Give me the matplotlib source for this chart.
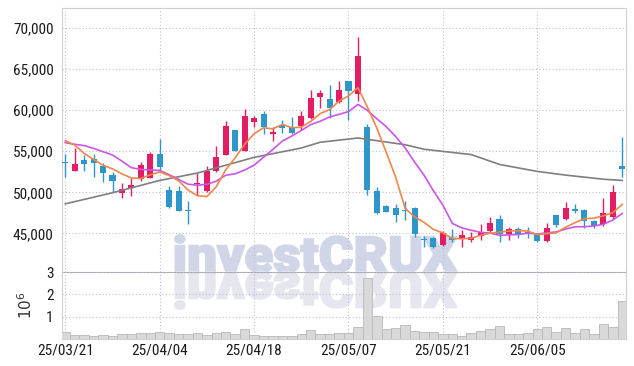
import numpy as np
import pandas as pd
import matplotlib
matplotlib.use("Agg")
import matplotlib.pyplot as plt
from matplotlib import font_manager
from matplotlib.font_manager import FontProperties
from matplotlib.textpath import TextPath
from matplotlib.patches import PathPatch
from matplotlib.transforms import Affine2D

# ---- data ----
tick_labels = ["25/03/21", "25/04/04", "25/04/18", "25/05/07", "25/05/21", "25/06/05"]
tick_index = [0, 10, 20, 30, 40, 50]

open_p = [53700, 52600, 53900, 54050, 53200, 52100, 49950, 50480, 51580, 51800,
          54650, 50250, 50150, 47800, 51000, 50200, 52600, 54550, 57600, 55050,
          58600, 59550, 57050, 58200, 58000, 58100, 59000, 61650, 61350, 61050,
          63550, 62000, 57900, 50150, 48300, 48150, 47800, 48050, 44300, 44400,
          43550, 44500, 44400, 44250, 44650, 45350, 46750, 44900, 45500, 45150,
          44950, 44050, 47200, 46700, 47950, 47800, 46450, 46200, 46950, 53250]
high_p = [54700, 55450, 54550, 54650, 53550, 52500, 51100, 51800, 53750, 54950,
          56450, 50750, 50750, 48900, 52300, 53200, 55700, 58700, 57650, 60200,
          59350, 59950, 58000, 58800, 59150, 59850, 62450, 62450, 63100, 63550,
          63600, 68900, 58300, 50700, 48400, 48550, 48900, 48200, 44700, 44600,
          45300, 45550, 45450, 45200, 46100, 47050, 47300, 45750, 45750, 45750,
          45100, 46300, 47300, 48850, 48600, 47950, 46600, 49350, 50900, 56750]
low_p = [51900, 52600, 52650, 51900, 51300, 50050, 49350, 49600, 51400, 51700,
         52500, 48150, 47700, 46100, 49700, 50000, 52500, 54500, 55000, 55000,
         57900, 57100, 56250, 57200, 57100, 57600, 58900, 60250, 59000, 60900,
         58850, 61150, 49650, 47400, 47550, 46400, 46600, 44550, 43400, 43250,
         43450, 43900, 43300, 43900, 44150, 45150, 44000, 44150, 44500, 44400,
         43950, 43950, 45800, 46600, 47500, 45700, 45650, 45900, 46700, 51850]
close_p = [53600, 53450, 53450, 53600, 52400, 51400, 50400, 50950, 53300, 54650,
           53100, 48250, 47750, 47700, 51150, 52600, 54250, 58050, 55050, 59300,
           59000, 57900, 57400, 57800, 57250, 59300, 61450, 62150, 60250, 62450,
           62400, 66600, 50250, 47500, 47650, 47200, 47700, 44950, 44250, 43350,
           45050, 44250, 44850, 44550, 45150, 46300, 44950, 45500, 44750, 44950,
           44050, 45600, 46000, 48150, 47750, 46450, 45900, 47450, 50000, 52900]
volume_m = [0.33, 0.18, 0.18, 0.12, 0.17, 0.12, 0.21, 0.21, 0.26, 0.26,
            0.32, 0.27, 0.21, 0.21, 0.26, 0.18, 0.27, 0.30, 0.21, 0.44,
            0.18, 0.15, 0.15, 0.14, 0.12, 0.21, 0.39, 0.21, 0.21, 0.26,
            0.26, 0.54, 2.73, 1.04, 0.45, 0.48, 0.62, 0.36, 0.30, 0.30,
            0.21, 0.21, 0.15, 0.29, 0.35, 0.44, 0.56, 0.21, 0.21, 0.29,
            0.44, 0.54, 0.32, 0.51, 0.27, 0.44, 0.21, 0.66, 0.53, 1.71]

# moving-average values before the window fills
ma5_head = [56300, 55750, 54750, 54000]
ma10_head = [56050, 55850, 55700, 55350, 54950, 54550, 53800, 53000, 52800]
# long moving average (grey), read at a few points
ma_long_idx = [0, 5, 10, 14, 20, 25, 27, 31, 36, 38, 43, 46, 50, 53, 57, 59]
ma_long_val = [48600, 49950, 51450, 52350, 54260, 55400, 56100, 56620, 55800,
               55250, 54600, 53400, 52550, 52100, 51600, 51450]

UP = "#e31d64"
DOWN = "#2f96c9"
GRID = "#bcc0d6"
W, H = 634, 366


def _first_font(candidates, **kw):
    for fam in candidates:
        try:
            font_manager.findfont(FontProperties(family=fam, **kw), fallback_to_default=False)
            return fam
        except ValueError:
            continue
    return "DejaVu Sans"


narrow = _first_font(["Roboto Condensed", "Noto Sans Condensed", "DejaVu Sans Condensed",
                      "Liberation Sans Narrow", "Liberation Sans"])
label_size = 11 if narrow != "Liberation Sans" else 10.0
plt.rcParams["font.family"] = [narrow, "DejaVu Sans"]

x = np.arange(len(close_p))
o = np.asarray(open_p, dtype=float)
hi = np.asarray(high_p, dtype=float)
lo = np.asarray(low_p, dtype=float)
c = np.asarray(close_p, dtype=float)
close_s = pd.Series(c)
ma5 = close_s.rolling(5).mean().to_numpy()
ma5[:4] = ma5_head
ma10 = close_s.rolling(10).mean().to_numpy()
ma10[:9] = ma10_head

fig = plt.figure(figsize=(W / 100, H / 100), dpi=100)
left, right = 62 / W, 626 / W
ax = fig.add_axes([left, 1 - 272 / H, right - left, (272 - 8) / H])
axv = fig.add_axes([left, 1 - 339 / H, right - left, (339 - 272) / H], sharex=ax)
for a in (ax, axv):
    a.set_facecolor("none")

# watermark + reflection (behind the axes)
wm_font = _first_font(["Roboto", "Lato", "Open Sans"], weight="black")
fp = FontProperties(family=[wm_font, "DejaVu Sans"], weight="black")
tp = TextPath((0, 0), "investCRUX", size=50, prop=fp)
bb = tp.get_extents()
sx = (457 - 175) / bb.width / W
sy = (272 - 235) / bb.y1 / H
base = Affine2D().translate(-bb.x0, 0)
main_tr = base + Affine2D().scale(sx, sy).translate(175 / W, 1 - 272 / H) + fig.transFigure
refl_tr = base + Affine2D().scale(sx, -sy).translate(175 / W, 1 - 272 / H) + fig.transFigure
fig.add_artist(PathPatch(tp, transform=main_tr, facecolor="#d0d6e8", edgecolor="#d0d6e8",
                         linewidth=1.4, zorder=-2))
fig.add_artist(PathPatch(tp, transform=refl_tr, facecolor="#e6e6ef", edgecolor="#e6e6ef",
                         linewidth=1.4, zorder=-2))

# candles
up = c >= o
colors = np.where(up, UP, DOWN)
ax.vlines(x, lo, hi, colors=colors, linewidth=1.0, zorder=3)
body_h = np.maximum(np.abs(c - o), 120)
ax.bar(x, body_h, bottom=np.minimum(o, c), width=0.64, color=colors, linewidth=0, zorder=4)

# moving averages
ax.plot(ma_long_idx, ma_long_val, color="#7f7f7f", linewidth=1.2, zorder=5)
ax.plot(x, ma10, color="#cb55e8", linewidth=1.2, zorder=5)
ax.plot(x, ma5, color="#f0864c", linewidth=1.2, zorder=6)

ax.set_xlim(-0.35, 59.4)
ax.set_ylim(40300, 72450)
price_ticks = [45000, 50000, 55000, 60000, 65000, 70000]
ax.set_yticks(price_ticks)
ax.set_yticklabels([f"{v:,}" for v in price_ticks])
ax.grid(True, color=GRID, linestyle=(0, (1, 2)), linewidth=0.8, zorder=0)
ax.tick_params(axis="y", length=0, pad=6, labelsize=label_size, labelcolor="#1a1a1a")
ax.tick_params(axis="x", length=0, labelbottom=False)
for sp in ax.spines.values():
    sp.set_color("#d0d0d0")
    sp.set_linewidth(0.8)
ax.spines["bottom"].set_color("#a8a8a8")

# volume
vol = np.asarray(volume_m) * 1e6
axv.bar(x, vol, width=1.0, color="#d9d9d9", edgecolor="#b8b8b8", linewidth=0.6, zorder=3)
axv.set_ylim(0, 3e6)
axv.set_yticks([1e6, 2e6, 3e6])
axv.set_yticklabels(["1", "2", "3"])
axv.set_xticks(tick_index)
axv.set_xticklabels(tick_labels)
axv.grid(True, color=GRID, linestyle=(0, (1, 2)), linewidth=0.8, zorder=0)
axv.tick_params(axis="both", length=0, labelsize=label_size, labelcolor="#1a1a1a")
axv.tick_params(axis="y", pad=6)
axv.tick_params(axis="x", pad=3)
axv.set_ylabel(r"$10^6$", fontsize=11, color="#333333", labelpad=8)
for sp in axv.spines.values():
    sp.set_color("#d0d0d0")
    sp.set_linewidth(0.8)
axv.spines["top"].set_visible(False)

fig.savefig("out.png", dpi=100)
